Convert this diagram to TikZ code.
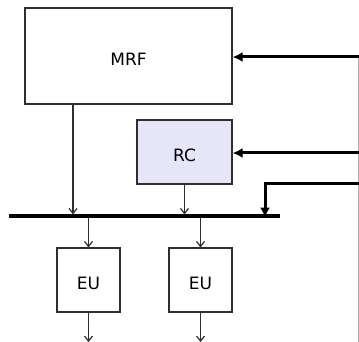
\documentclass[tikz,border=0pt]{standalone}
\usepackage{fontspec}
\setmainfont{DejaVu Sans}
\usetikzlibrary{arrows.meta}
\definecolor{linec}{HTML}{2E2E2E}
\definecolor{rcfill}{HTML}{E6E6F8}
\definecolor{railc}{HTML}{AAAAAA}
\begin{document}
\begin{tikzpicture}[x=1pt,y=-1pt,
  blk/.style={draw=linec,line width=1.2pt,inner sep=0pt,font=\fontsize{17}{19}\selectfont,text height=19pt,text depth=0pt},
  thin/.style={draw=linec,line width=1.2pt,-{Straight Barb[length=5pt,width=8pt,line width=1.2pt]}},
  thick/.style={draw=black,line width=3pt,-{Latex[length=10pt,width=10pt]}},
  bus/.style={draw=black,line width=3.2pt}]
\useasboundingbox (0,0) rectangle (359,342);
\node[blk,minimum width=207pt,minimum height=96pt] (mrf) at (128.5,56) {MRF};
\node[blk,fill=rcfill,minimum width=95pt,minimum height=64pt] (rc) at (184.5,152) {RC};
\node[blk,minimum width=63pt,minimum height=64pt] (eu1) at (88.5,280) {EU};
\node[blk,minimum width=63pt,minimum height=64pt] (eu2) at (200.5,280) {EU};
\coordinate (busl) at (9,216);
\coordinate (busr) at (280,216);
\draw[bus] (busl) -- (busr);
\coordinate (e1) at (359,57);
\coordinate (e2) at (359,153);
\coordinate (e3) at (359,184);
\coordinate (b3) at (265,216);
\coordinate (o1) at (88.5,342);
\coordinate (o2) at (200.5,342);
\coordinate (railtop) at (358,57);
\coordinate (railbot) at (358,342);
\draw[draw=railc,line width=1pt] (railtop) -- (railbot);
\draw[thick] (e1) -- (e1 -| mrf.east);
\draw[thick] (e2) -- (e2 -| rc.east);
\draw[thick] (e3) -| ([yshift=-1.6pt]b3);
\draw[thin] (mrf.south -| 73,0) -- (73,214.4);
\draw[thin] (rc.south) -- (184.5,214.4);
\draw[thin] (eu1.north |- 217.6,217.6) -- (eu1.north);
\draw[thin] (eu2.north |- 217.6,217.6) -- (eu2.north);
\draw[thin] (eu1.south) -- (o1);
\draw[thin] (eu2.south) -- (o2);
\end{tikzpicture}
\end{document}
